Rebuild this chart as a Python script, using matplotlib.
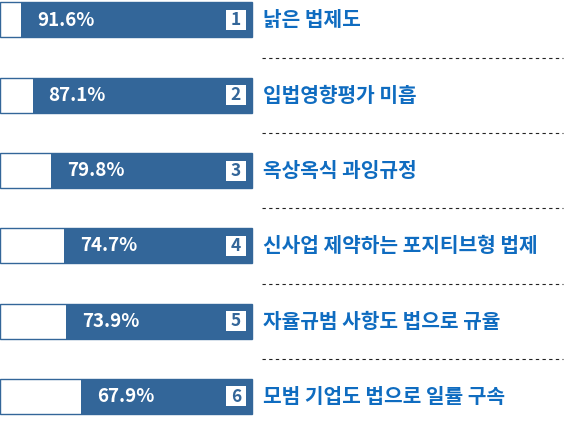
import matplotlib
matplotlib.use("Agg")
import matplotlib.pyplot as plt
from matplotlib.patches import Rectangle

categories = ["낡은 법제도", "입법영향평가 미흡", "옥상옥식 과잉규정",
              "신사업 제약하는 포지티브형 법제", "자율규범 사항도 법으로 규율",
              "모범 기업도 법으로 일률 구속"]
values = [91.6, 87.1, 79.8, 74.7, 73.9, 67.9]
ranks = ["1", "2", "3", "4", "5", "6"]

plt.rcParams['font.family'] = ['Noto Sans CJK KR', 'DejaVu Sans']

W, H = 576, 423
fig = plt.figure(figsize=(W / 100, H / 100), dpi=100)
ax = fig.add_axes([0, 0, 1, 1])
ax.axis('off')

bar_px = 252.0
sx = bar_px / 100.0       # px per unit
step = 75.3               # px per row
top = 20.0                # center of first row in px
ax.set_xlim(0, W / sx)
ax.set_ylim((H - top) / step, -top / step)

bar_blue = '#336699'
text_blue = '#0f6cc0'
bh = 35 / step

n = len(values)
ys = list(range(n))
ax.barh(ys, [100] * n, left=0, height=bh, color='white', edgecolor=bar_blue, linewidth=1.0)
ax.barh(ys, values, left=[100 - v for v in values], height=bh, color=bar_blue, linewidth=0)

box_w = 20 / sx
box_h = 20 / step
for i, (v, c, r) in enumerate(zip(values, categories, ranks)):
    ax.text(100 - v + 16 / sx, i, f"{v:.1f}%", color='white', fontsize=13.5,
            fontweight='bold', va='center', ha='left')
    ax.add_patch(Rectangle((236 / sx - box_w / 2, i - box_h / 2), box_w, box_h,
                           facecolor='white', edgecolor='none'))
    ax.text(236 / sx, i, r, color=bar_blue, fontsize=12.5, fontweight='bold',
            va='center', ha='center')
    ax.text(263 / sx, i, c, color=text_blue, fontsize=14.6, fontweight='bold',
            va='center', ha='left')
    if i < n - 1:
        ax.plot([262 / sx, 563 / sx], [i + 0.5, i + 0.5], color='#222222',
                linewidth=0.8, linestyle=(0, (3, 3)))

fig.savefig('out.png', dpi=100)
